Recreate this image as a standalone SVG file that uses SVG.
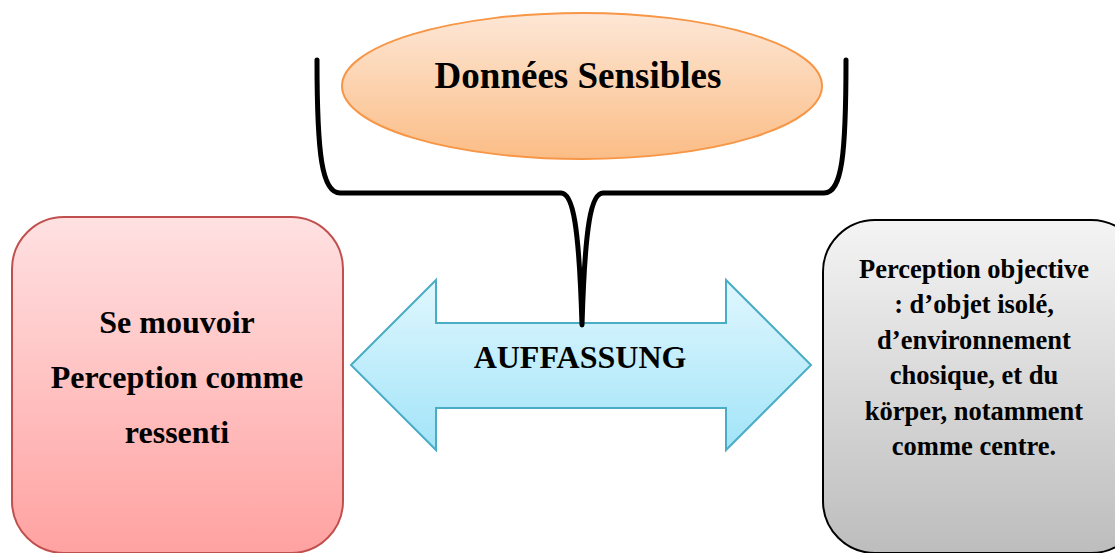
<svg xmlns="http://www.w3.org/2000/svg" width="1115" height="553" viewBox="0 0 1115 553">
<defs>
<linearGradient id="gOrange" x1="0" y1="0" x2="0" y2="1"><stop offset="0" stop-color="#fde7d6"/><stop offset="1" stop-color="#fbbd86"/></linearGradient>
<linearGradient id="gRed" x1="0" y1="0" x2="0" y2="1"><stop offset="0" stop-color="#ffe1e2"/><stop offset="1" stop-color="#ffa2a1"/></linearGradient>
<linearGradient id="gGray" x1="0" y1="0" x2="0" y2="1"><stop offset="0" stop-color="#f4f4f4"/><stop offset="1" stop-color="#bdbdbd"/></linearGradient>
<linearGradient id="gBlue" x1="0" y1="0" x2="0" y2="1"><stop offset="0" stop-color="#e0f7fe"/><stop offset="1" stop-color="#a2e4f8"/></linearGradient>
</defs>
<style>
text{font-family:"Liberation Serif","Times New Roman",serif;font-weight:bold;fill:#000;text-anchor:middle}
.brace{fill:none;stroke:#000;stroke-width:5;stroke-linecap:round;stroke-linejoin:round}
</style>
<rect width="1115" height="553" fill="#fff"/>
<g id="left-box">
<rect x="12" y="217" width="331" height="336" rx="52" ry="52" fill="url(#gRed)" stroke="#c0504d" stroke-width="2"/>
<text x="177" y="333" font-size="32">Se mouvoir</text>
<text x="177" y="388" font-size="32">Perception comme</text>
<text x="177" y="443" font-size="32">ressenti</text>
</g>
<g id="right-box">
<rect x="823" y="220" width="320" height="333" rx="52" ry="52" fill="url(#gGray)" stroke="#000" stroke-width="2"/>
<text x="974" y="278" font-size="26.5">Perception objective</text>
<text x="974" y="313" font-size="26.5">: d’objet isolé,</text>
<text x="974" y="349" font-size="26.5">d’environnement</text>
<text x="974" y="384" font-size="26.5">chosique, et du</text>
<text x="974" y="420" font-size="26.5">körper, notamment</text>
<text x="974" y="455" font-size="26.5">comme centre.</text>
</g>
<g id="auffassung">
<path d="M351,365 L436,280 L436,323 L726,323 L726,280 L811,365 L726,450 L726,408 L436,408 L436,450 Z" fill="url(#gBlue)" stroke="#4bacc6" stroke-width="2"/>
<text x="580" y="368" font-size="32">AUFFASSUNG</text>
</g>
<g id="connectors">
<path class="brace" d="M317,60 C317,155 322,193 340,193 L561,193 C573,193 579,225 582,325 C585,225 591,193 603,193 L824,193 C842,193 846,155 846,60"/>
</g>
<g id="donnees">
<ellipse cx="582" cy="86" rx="240" ry="73" fill="url(#gOrange)" stroke="#f79646" stroke-width="2"/>
<text x="578" y="88" font-size="37">Données Sensibles</text>
</g>
</svg>
